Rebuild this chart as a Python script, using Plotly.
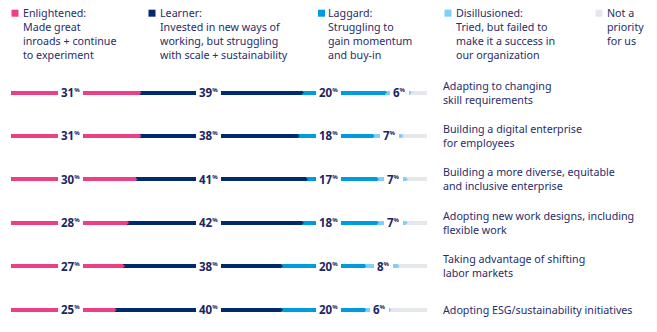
import plotly.graph_objects as go

# Survey results: share of respondents per maturity stage, by initiative
categories = [
    "Adapting to changing<br>skill requirements",
    "Building a digital enterprise<br>for employees",
    "Building a more diverse, equitable<br>and inclusive enterprise",
    "Adopting new work designs, including<br>flexible work",
    "Taking advantage of shifting<br>labor markets",
    "Adopting ESG/sustainability initiatives",
]
enlightened = [31, 31, 30, 28, 27, 25]
learner = [39, 38, 41, 42, 38, 40]
laggard = [20, 18, 17, 18, 20, 20]
disillusioned = [6, 7, 7, 7, 8, 6]
not_priority = [4, 6, 5, 5, 7, 9]

series_names = ["Enlightened:", "Learner:", "Laggard:", "Disillusioned:", "Not a"]
series_desc = [
    "Made great<br>inroads + continue<br>to experiment",
    "Invested in new ways of<br>working, but struggling<br>with scale + sustainability",
    "Struggling to<br>gain momentum<br>and buy-in",
    "Tried, but failed to<br>make it a success in<br>our organization",
    "priority<br>for us",
]
series_values = [enlightened, learner, laggard, disillusioned, not_priority]
colors = ["#ec3f86", "#002a6e", "#009bdc", "#7fd0f6", "#e4e7ec"]

W, H = 657, 332
TEXT = "#282c6b"
NUM = "#1c2563"
FONT = "Noto Sans"

# pixel layout helpers
X0, X1 = 11, 427          # plot strip in px for 0..100 %
ROW0, ROWSTEP = 92.5, 43.44

def px_x(p):
    return p / W

def px_y(p):
    return 1 - p / H

fig = go.Figure()

for name, vals, col in zip(series_names, series_values, colors):
    fig.add_trace(go.Bar(
        y=categories, x=vals, orientation="h", name=name,
        marker=dict(color=col, line=dict(width=0)),
        width=4 / ROWSTEP, hoverinfo="skip", showlegend=False,
    ))

# small pointed tips: left tip of each row, right tip on every segment end
fig.add_trace(go.Scatter(
    x=[0] * len(categories), y=categories, mode="markers",
    marker=dict(symbol="triangle-left", size=3.5, color=colors[0], line=dict(width=0)),
    hoverinfo="skip", showlegend=False,
))
for si in range(len(series_values)):
    ends = [sum(series_values[k][r] for k in range(si + 1)) for r in range(len(categories))]
    fig.add_trace(go.Scatter(
        x=ends, y=categories, mode="markers",
        marker=dict(symbol="triangle-right", size=3.5, color=colors[si], line=dict(width=0)),
        hoverinfo="skip", showlegend=False,
    ))

annotations = []
PCT = '<sup><span style="font-size:6px">%</span></sup>'
# value labels: first three columns at fixed spots, last one on its segment
fixed_pos = [14.2, 47.4, 76.4]
for r, cat in enumerate(categories):
    row_vals = [enlightened[r], learner[r], laggard[r], disillusioned[r]]
    start_dis = enlightened[r] + learner[r] + laggard[r]
    xs = fixed_pos + [start_dis + disillusioned[r] / 2 + 0.5]
    for v, xv in zip(row_vals, xs):
        annotations.append(dict(
            x=xv, y=cat, xref="x", yref="y", xanchor="center", yanchor="middle",
            text=f"<b>{v}</b><b>{PCT}</b>", showarrow=False,
            font=dict(family=FONT, size=11.5, color=NUM),
            bgcolor="white", borderpad=3, borderwidth=0,
        ))
    annotations.append(dict(
        x=px_x(443), y=cat, xref="paper", yref="y", xanchor="left", yanchor="middle",
        text=cat, showarrow=False, align="left",
        font=dict(family=FONT, size=10.7, color=TEXT),
        borderpad=0, borderwidth=0,
    ))

# legend: coloured squares + descriptive text
sq_x = [11.5, 148.5, 318, 444.5, 595.5]
txt_x = [22.5, 160, 327.5, 455.5, 606.5]
shapes = []
for i in range(len(series_names)):
    shapes.append(dict(
        type="rect", xref="paper", yref="paper",
        x0=px_x(sq_x[i]), x1=px_x(sq_x[i] + 7),
        y0=px_y(16.7), y1=px_y(9.7),
        fillcolor=colors[i], line=dict(width=0),
    ))
    annotations.append(dict(
        x=px_x(txt_x[i]), y=px_y(6.0), xref="paper", yref="paper",
        xanchor="left", yanchor="top", align="left", showarrow=False,
        text=series_names[i] + "<br>" + series_desc[i],
        font=dict(family=FONT, size=10.7, color=TEXT),
        borderpad=0, borderwidth=0,
    ))

y_top = -ROW0 / ROWSTEP
y_bot = (len(categories) - 1) + (H - (ROW0 + ROWSTEP * (len(categories) - 1))) / ROWSTEP

fig.update_layout(
    width=W, height=H, margin=dict(l=0, r=0, t=0, b=0),
    paper_bgcolor="white", plot_bgcolor="white",
    barmode="stack", bargap=0,
    xaxis=dict(domain=[X0 / W, X1 / W], range=[0, 100], visible=False, fixedrange=True),
    yaxis=dict(range=[y_bot, y_top], visible=False, fixedrange=True,
               categoryorder="array", categoryarray=categories),
    annotations=annotations, shapes=shapes,
)

fig.write_html("out.html")
